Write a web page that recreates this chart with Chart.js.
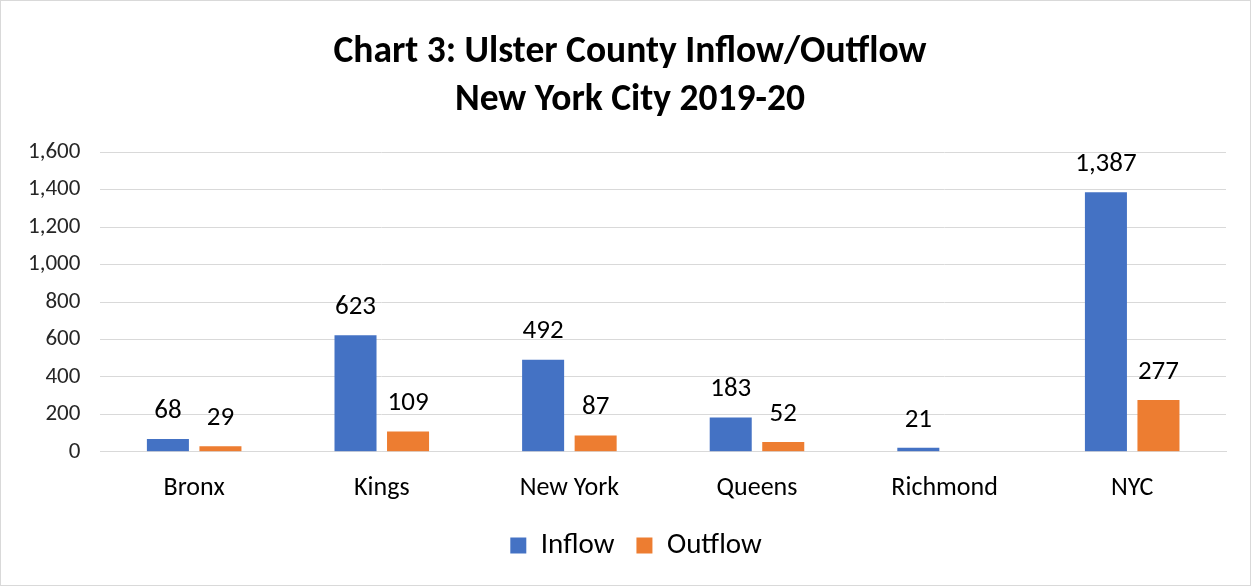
<!DOCTYPE html>
<html>
<head>
<meta charset="utf-8">
<script src="https://cdn.jsdelivr.net/npm/chart.js@4"></script>
<style>
  html, body { margin: 0; padding: 0; background: #fff; }
  #wrap { position: relative; width: 1249px; height: 584px; border: 1px solid #d9d9d9; }
</style>
</head>
<body>
<div id="wrap"><canvas id="chart"></canvas></div>
<script>
const boroughs = ["Bronx", "Kings", "New York", "Queens", "Richmond", "NYC"];
const inflow   = [68, 623, 492, 183, 21, 1387];
const outflow  = [29, 109, 87, 52, null, 277];
const yTicks   = [0, 200, 400, 600, 800, 1000, 1200, 1400, 1600];

const FONT = "Carlito, Lato, 'Open Sans', sans-serif";

// value labels above each bar
const barLabels = {
  id: "barLabels",
  afterDatasetsDraw(chart) {
    const ctx = chart.ctx;
    ctx.save();
    ctx.font = "27px " + FONT;
    ctx.fillStyle = "#000";
    ctx.textAlign = "center";
    ctx.textBaseline = "middle";
    chart.data.datasets.forEach((ds, i) => {
      chart.getDatasetMeta(i).data.forEach((bar, j) => {
        const v = ds.data[j];
        if (v == null) return;
        ctx.fillText(v.toLocaleString("en-US"), bar.x, bar.y - 28);
      });
    });
    ctx.restore();
  }
};

// title and legend sit a bit right of the plot centre in the original
const nudge = {
  id: "nudge",
  afterLayout(chart) {
    if (chart.titleBlock) { chart.titleBlock.left += 13; chart.titleBlock.right += 13; }
    if (chart.legend) { chart.legend.left += 19; chart.legend.right += 19; }
  }
};

new Chart(document.getElementById("chart").getContext("2d"), {
  type: "bar",
  data: {
    labels: boroughs,
    datasets: [
      { label: "Inflow",  data: inflow,  backgroundColor: "#4472c4", categoryPercentage: 0.56, barPercentage: 0.8 },
      { label: "Outflow", data: outflow, backgroundColor: "#ed7d31", categoryPercentage: 0.56, barPercentage: 0.8 }
    ]
  },
  options: {
    responsive: true,
    maintainAspectRatio: false,
    animation: false,
    layout: { padding: { left: 7, right: 24, top: 28, bottom: 15 } },
    plugins: {
      title: {
        display: true,
        text: ["Chart 3: Ulster County Inflow/Outflow", "New York City 2019-20"],
        color: "#000",
        font: { family: FONT, size: 37.5, weight: "bold", lineHeight: 1.27 },
        padding: { top: 0, bottom: 28 }
      },
      legend: {
        position: "bottom",
        labels: {
          color: "#000",
          font: { family: FONT, size: 29 },
          boxWidth: 16, boxHeight: 16, padding: 22
        }
      },
      tooltip: { enabled: false }
    },
    scales: {
      x: {
        grid: { display: false },
        border: { color: "#d9d9d9" },
        ticks: { color: "#000", font: { family: FONT, size: 26 }, padding: 13 },
        afterFit: s => { s.height -= 8; }
      },
      y: {
        min: 0, max: 1600,
        afterBuildTicks: axis => { axis.ticks = yTicks.map(v => ({ value: v })); },
        grid: { color: "#d9d9d9", drawTicks: false },
        border: { display: false },
        ticks: {
          color: "#262626", padding: 20,
          font: { family: FONT, size: 23 },
          callback: v => v.toLocaleString("en-US")
        }
      }
    }
  },
  plugins: [barLabels, nudge]
});
</script>
</body>
</html>
